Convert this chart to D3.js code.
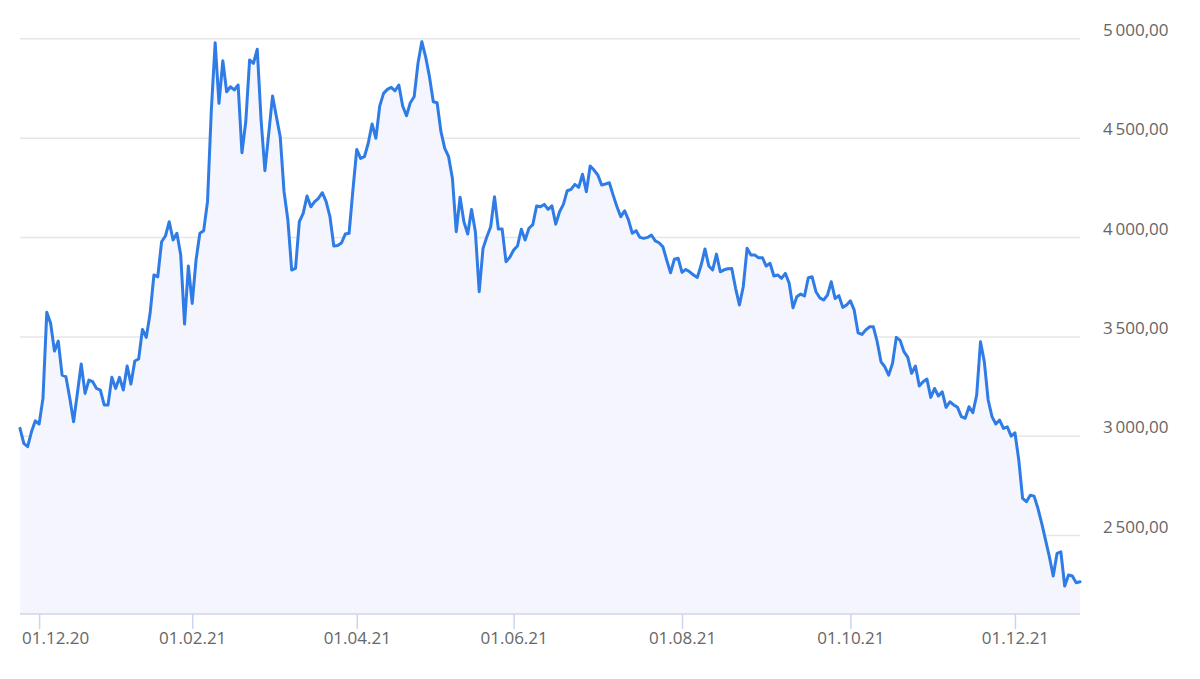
<!DOCTYPE html>
<html>
<head>
<meta charset="utf-8">
<script src="https://cdn.jsdelivr.net/npm/d3@7"></script>
<style>
  html, body { margin: 0; padding: 0; background: #fff; }
  svg { display: block; font-family: "Open Sans", "Noto Sans", sans-serif; }
</style>
</head>
<body>
<svg id="chart" width="1200" height="679"></svg>
<script>
// ---- data: closing price per trading day, starting 24.11.2020 ----
const firstTradingDay = "2020-11-24";
const exchangeHolidays = ["2020-12-24", "2020-12-25", "2020-12-31", "2021-01-01",
                          "2021-04-02", "2021-04-05", "2021-12-24"];
const prices = [
  3037,2962,2945,3020,3075,3059,3188,3621,3566,3426,
  3476,3305,3297,3190,3070,3215,3361,3213,3280,3272,
  3238,3230,3155,3155,3294,3238,3294,3230,3351,3260,
  3376,3386,3535,3495,3616,3809,3800,3976,4005,4077,
  3985,4019,3909,3562,3854,3666,3884,4019,4032,4178,
  4639,4978,4673,4887,4731,4756,4740,4765,4424,4580,
  4891,4874,4945,4589,4334,4522,4710,4605,4505,4228,
  4086,3834,3842,4077,4119,4206,4152,4178,4195,4223,
  4178,4102,3955,3957,3970,4015,4019,4237,4441,4396,
  4404,4472,4569,4497,4659,4723,4743,4753,4736,4765,
  4659,4610,4676,4706,4874,4983,4907,4807,4681,4676,
  4530,4446,4404,4295,4027,4200,4077,4015,4139,4027,
  3725,3943,4001,4052,4203,4040,4040,3876,3898,3935,
  3955,4039,3985,4044,4062,4156,4152,4164,4139,4157,
  4065,4127,4164,4233,4240,4265,4250,4316,4228,4357,
  4337,4312,4262,4267,4273,4211,4152,4102,4132,4086,
  4019,4032,3998,3993,3998,4010,3981,3971,3951,3884,
  3820,3888,3893,3822,3837,3825,3809,3797,3859,3940,
  3854,3834,3914,3825,3835,3840,3842,3742,3658,3750,
  3943,3909,3909,3896,3896,3854,3868,3804,3809,3792,
  3817,3767,3644,3699,3713,3703,3795,3800,3725,3694,
  3683,3708,3775,3691,3705,3646,3658,3679,3632,3518,
  3510,3532,3548,3548,3473,3372,3347,3305,3364,3495,
  3480,3423,3394,3314,3351,3251,3272,3285,3193,3238,
  3200,3221,3143,3171,3155,3143,3096,3088,3146,3116,
  3205,3473,3372,3180,3096,3059,3079,3037,3045,2998,
  3015,2878,2685,2668,2701,2696,2635,2559,2475,2391,
  2294,2408,2416,2244,2299,2294,2260,2265
];
const xTickDates = ["2020-12-01", "2021-02-01", "2021-04-01", "2021-06-01",
                    "2021-08-01", "2021-10-01", "2021-12-01"];
const yTickValues = [2500, 3000, 3500, 4000, 4500, 5000];
const yMin = 2103, yMax = 5000;

// ---- trading calendar (ordinal time axis: weekends and holidays skipped) ----
const parse = d3.timeParse("%Y-%m-%d");
const fmtKey = d3.timeFormat("%Y-%m-%d");
const holidaySet = new Set(exchangeHolidays);
const tradingDays = [];
for (let d = parse(firstTradingDay); tradingDays.length < prices.length; d = d3.timeDay.offset(d, 1)) {
  const wd = d.getDay();
  if (wd === 0 || wd === 6 || holidaySet.has(fmtKey(d))) continue;
  tradingDays.push(d);
}
const data = prices.map((v, i) => ({ i, date: tradingDays[i], value: v }));

// ---- layout ----
const svg = d3.select("#chart");
const plot = { left: 20, right: 1080, top: 38.3, bottom: 614 };

const x = d3.scaleLinear().domain([0, prices.length - 1]).range([plot.left, plot.right]);
const y = d3.scaleLinear().domain([yMin, yMax]).range([plot.bottom, plot.top]);

const locale = d3.formatLocale({ decimal: ",", thousands: "\u2009", grouping: [3], currency: ["", ""] });
const yFmt = locale.format(",.2f");
const xFmt = d3.timeFormat("%d.%m.%y");

// gridlines + y labels (opposite side)
const yAxis = d3.axisRight(y).tickValues(yTickValues).tickSize(plot.right - plot.left)
  .tickFormat(yFmt);
const yG = svg.append("g").attr("transform", `translate(${plot.left},0)`).call(yAxis);
yG.select(".domain").remove();
yG.selectAll(".tick line").attr("stroke", "#e6e6e6").attr("stroke-width", 1.5);
yG.selectAll(".tick text")
  .attr("x", 1103 - plot.left).attr("dy", "-3px").attr("dominant-baseline", "auto")
  .attr("text-anchor", "start")
  .attr("fill", "#666").attr("font-size", 17)
  .attr("font-family", "'Open Sans', 'Noto Sans', sans-serif");

// area + line
const area = d3.area().x(d => x(d.i)).y0(plot.bottom).y1(d => y(d.value));
const line = d3.line().x(d => x(d.i)).y(d => y(d.value));
svg.append("path").datum(data).attr("d", area).attr("fill", "#f5f6fd");
svg.append("path").datum(data).attr("d", line)
  .attr("fill", "none").attr("stroke", "#2f7ce6").attr("stroke-width", 3)
  .attr("stroke-linejoin", "round").attr("stroke-linecap", "round");

// x axis: ticks at the first trading day of each labelled month
const xTicks = xTickDates.map(s => {
  const md = parse(s);
  const idx = tradingDays.findIndex(t => t >= md);
  return { idx, label: xFmt(md) };
});
const xAxis = d3.axisBottom(x).tickValues(xTicks.map(t => t.idx)).tickSize(15).tickPadding(0)
  .tickFormat((d, k) => xTicks[k].label);
const xG = svg.append("g").attr("transform", `translate(0,${plot.bottom})`).call(xAxis);
xG.select(".domain").attr("stroke", "#ccd6eb").attr("stroke-width", 1.5)
  .attr("d", `M${plot.left},0H${plot.right}`);
xG.selectAll(".tick line").attr("stroke", "#ccd6eb").attr("stroke-width", 1.5);
xG.selectAll(".tick text")
  .attr("y", 30).attr("dy", 0)
  .attr("fill", "#666").attr("font-size", 17)
  .attr("font-family", "'Open Sans', 'Noto Sans', sans-serif");
// keep labels inside the chart (justify overflow at left edge)
xG.selectAll(".tick").each(function () {
  const t = d3.select(this).select("text");
  const bb = t.node().getBBox();
  const tr = d3.select(this).attr("transform");
  const tx = +/translate\(([-\d.]+)/.exec(tr)[1];
  if (tx + bb.x < 22) t.attr("x", 22 - (tx + bb.x));
});
</script>
</body>
</html>
